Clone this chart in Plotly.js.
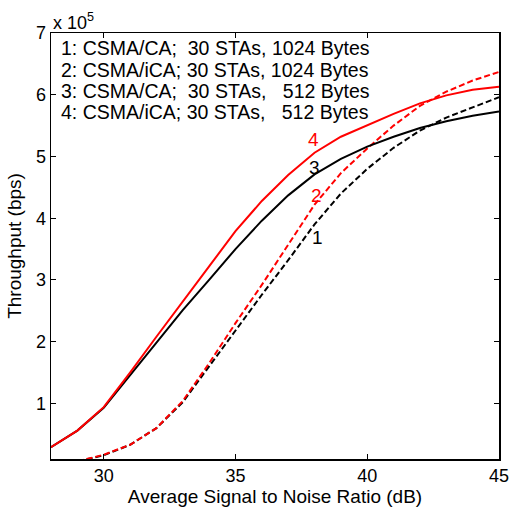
<!DOCTYPE html>
<html>
<head>
<meta charset="utf-8">
<script src="https://cdn.plot.ly/plotly-3.0.1.min.js"></script>
<style>html,body{margin:0;padding:0;background:#fff;}#chart{width:512px;height:510px;}</style>
</head>
<body>
<div id="chart"></div>
<script>
// SNR (dB)
var snr = [28, 29, 30, 31, 32, 33, 34, 35, 36, 37, 38, 39, 40, 41, 42, 43, 44, 45];
// Throughput in units of 10^5 bps
var thr1 = [0.02, 0.06, 0.16, 0.33, 0.60, 1.02, 1.60, 2.19, 2.76, 3.32, 3.90, 4.40, 4.80, 5.14, 5.42, 5.63, 5.80, 5.96]; // CSMA/CA 1024
var thr2 = [0.02, 0.06, 0.17, 0.33, 0.60, 1.04, 1.65, 2.30, 2.92, 3.56, 4.22, 4.73, 5.13, 5.50, 5.82, 6.05, 6.23, 6.37]; // CSMA/iCA 1024
var thr3 = [0.29, 0.56, 0.93, 1.46, 1.99, 2.51, 3.00, 3.50, 3.96, 4.37, 4.71, 4.96, 5.16, 5.32, 5.46, 5.57, 5.66, 5.73]; // CSMA/CA 512
var thr4 = [0.29, 0.56, 0.94, 1.50, 2.08, 2.66, 3.22, 3.79, 4.28, 4.70, 5.06, 5.32, 5.51, 5.69, 5.86, 5.99, 6.08, 6.13]; // CSMA/iCA 512

var legendLines = [
  "1: CSMA/CA;\u00a0\u00a030 STAs, 1024 Bytes",
  "2: CSMA/iCA; 30 STAs, 1024 Bytes",
  "3: CSMA/CA;\u00a0\u00a030 STAs,\u00a0\u00a0\u00a0512 Bytes",
  "4: CSMA/iCA; 30 STAs,\u00a0\u00a0\u00a0512 Bytes"
];
var legendY = [6.756, 6.407, 6.058, 5.717];
var curveLabels = ["1", "2", "3", "4"];
var curveLabelX = [38.1, 38.06, 38.0, 37.95];
var curveLabelY = [3.69, 4.37, 4.82, 5.27];
var colors = ["#000000", "#ff0000", "#000000", "#ff0000"];
var xTicks = [30, 35, 40, 45];
var yTicks = [1, 2, 3, 4, 5, 6, 7];

var FONT = "Liberation Sans, Arial, sans-serif";
var series = [thr1, thr2, thr3, thr4];
var dashes = ["6px,3px", "6px,3px", "solid", "solid"];
var traces = series.map(function (s, i) {
  return {
    x: snr, y: s, type: "scatter", mode: "lines",
    line: {color: colors[i], width: 2, dash: dashes[i]},
    showlegend: false, hoverinfo: "skip"
  };
});

var annotations = [];
legendLines.forEach(function (t, i) {
  annotations.push({x: 28.3, y: legendY[i], xref: "x", yref: "y", text: t, showarrow: false,
    xanchor: "left", yanchor: "middle", font: {family: FONT, size: 19.5, color: "#000"}});
});
curveLabels.forEach(function (t, i) {
  annotations.push({x: curveLabelX[i], y: curveLabelY[i], xref: "x", yref: "y", text: t, showarrow: false,
    xanchor: "center", yanchor: "middle", font: {family: FONT, size: 19, color: colors[i]}});
});
annotations.push({x: 0, y: 1, xref: "paper", yref: "paper", text: "x 10<sup>5</sup>", showarrow: false,
  xanchor: "left", yanchor: "bottom", yshift: -2, font: {family: FONT, size: 18, color: "#000"}});

var axisCommon = {
  showgrid: false, zeroline: false, showline: true, linecolor: "#000", linewidth: 1.5,
  mirror: "ticks", ticks: "inside", ticklen: 5, tickwidth: 1, tickcolor: "#000",
  tickfont: {family: FONT, size: 18, color: "#000"}
};

var layout = {
  width: 512, height: 510,
  margin: {l: 51, r: 13, t: 33, b: 51, pad: 0},
  paper_bgcolor: "#fff", plot_bgcolor: "#fff",
  xaxis: Object.assign({}, axisCommon, {
    range: [28, 45], tickvals: xTicks, ticktext: xTicks.map(String),
    title: {text: "Average Signal to Noise Ratio (dB)", font: {family: FONT, size: 19, color: "#000"}, standoff: 4}
  }),
  yaxis: Object.assign({}, axisCommon, {
    range: [0.1, 7], tickvals: yTicks, ticktext: yTicks.map(String),
    title: {text: "Throughput (bps)", font: {family: FONT, size: 19, color: "#000"}, standoff: 9}
  }),
  annotations: annotations
};

Plotly.newPlot("chart", traces, layout, {displayModeBar: false, staticPlot: true});
</script>
</body>
</html>
